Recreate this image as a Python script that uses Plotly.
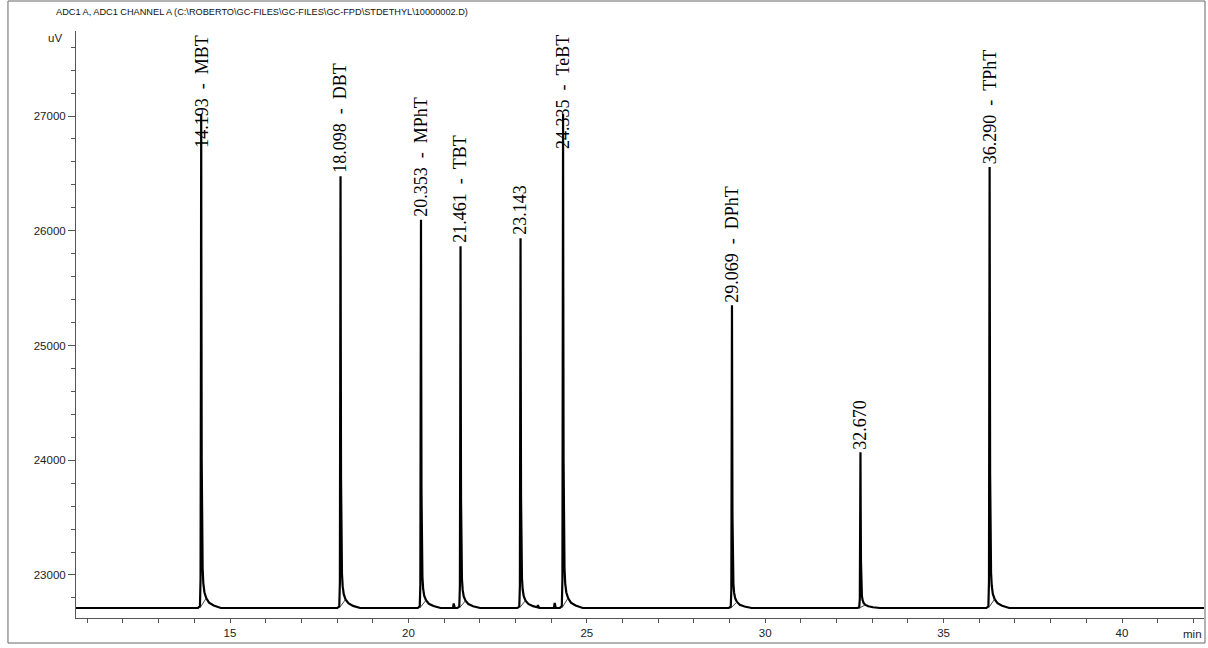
import numpy as np
import plotly.graph_objects as go

# Peak table (retention time in min, compound, apex signal in uV)
retention_times = [14.193, 18.098, 20.353, 21.461, 23.143, 24.335, 29.069, 32.670, 36.290]
compound_names = ["MBT", "DBT", "MPhT", "TBT", "", "TeBT", "DPhT", "", "TPhT"]
apex_uv = [27010, 26475, 26095, 25865, 25935, 27020, 25350, 24070, 26555]

baseline_uv = 22712
run_start, run_end = 10.6, 42.4

# Peak profile: offsets from apex (min) and fraction of apex height above baseline
profile_dt = [-0.09, -0.035, -0.018, -0.008, 0.0, 0.006, 0.014, 0.025, 0.04, 0.06, 0.09, 0.14, 0.22, 0.35, 0.55]
profile_frac = [0.0, 0.004, 0.06, 0.5, 1.0, 0.65, 0.3, 0.14, 0.08, 0.05, 0.032, 0.02, 0.011, 0.005, 0.0]

# Small baseline disturbances (min, uV above baseline)
blip_times = [21.27, 23.63, 24.10]
blip_uv = [40, 20, 45]
blip_dt = [-0.02, 0.0, 0.03]
blip_frac = [0.0, 1.0, 0.0]

# Integration marker span relative to apex (min)
integ_start_dt = -0.035
integ_end_dt = 0.14

# ---- build the trace ----
t = [run_start, run_end]
for rt in retention_times:
    t += [rt + d for d in profile_dt]
for bt in blip_times:
    t += [bt + d for d in blip_dt]
t = np.unique(np.array(t))

signal = np.full(t.shape, float(baseline_uv))
for rt, h in zip(retention_times, apex_uv):
    signal += np.interp(t, [rt + d for d in profile_dt], profile_frac, left=0, right=0) * (h - baseline_uv)
for bt, b in zip(blip_times, blip_uv):
    signal += np.interp(t, [bt + d for d in blip_dt], blip_frac, left=0, right=0) * b

fig = go.Figure()
fig.add_trace(go.Scatter(x=t, y=signal, mode="lines",
                         line=dict(color="black", width=2.2), hoverinfo="skip"))

# integration baselines under each peak
for rt in retention_times:
    xs = [rt + integ_start_dt, rt + integ_end_dt]
    ys = [baseline_uv, float(np.interp(xs[1], t, signal))]
    fig.add_trace(go.Scatter(x=xs, y=ys, mode="lines",
                             line=dict(color="#333333", width=0.9), hoverinfo="skip"))

y_range = [22625, 27741]
x_range = [10.684, 42.298]

label_font = dict(family="Liberation Serif, Times New Roman, serif", size=18, color="black")
for rt, name, h in zip(retention_times, compound_names, apex_uv):
    label = f"{rt:.3f}" + (f"\u00a0\u00a0-\u00a0\u00a0{name}" if name else "")
    if h > 26900:
        fig.add_annotation(x=rt, y=y_range[1], text=label, textangle=-90, showarrow=False,
                           xanchor="center", yanchor="top", yshift=-2, font=label_font)
    else:
        fig.add_annotation(x=rt, y=h, text=label, textangle=-90, showarrow=False,
                           xanchor="center", yanchor="bottom", yshift=1, font=label_font)

axis_font = dict(family="Liberation Sans, Arial, sans-serif", size=11.5, color="#222222")
title_font = dict(family="Liberation Sans, Arial, sans-serif", size=9.2, color="#111111")

fig.add_annotation(xref="paper", yref="paper", x=0.1645, y=1.0324,
                   text="ADC1 A, ADC1 CHANNEL A (C:\\ROBERTO\\GC-FILES\\GC-FILES\\GC-FPD\\STDETHYL\\10000002.D)",
                   showarrow=False, xanchor="center", yanchor="middle", font=title_font)
fig.add_annotation(xref="paper", yref="paper", x=0, y=1, xshift=-12, yshift=-7,
                   text="uV", showarrow=False, xanchor="right", yanchor="middle", font=axis_font)
fig.add_annotation(xref="paper", yref="paper", x=1, y=0, yshift=-8,
                   text="min", showarrow=False, xanchor="right", yanchor="top", font=axis_font)

# outer frame
fig.add_shape(type="rect", xref="paper", yref="paper",
              x0=-0.0603, x1=1.0009, y0=-0.0426, y1=1.0511,
              line=dict(color="#666666", width=1))

fig.update_xaxes(range=x_range, showgrid=False, zeroline=False, showline=True,
                 linecolor="#555555", linewidth=1, ticks="outside", ticklen=4,
                 tickcolor="#555555", tick0=0, dtick=5, tickfont=axis_font,
                 minor=dict(ticks="outside", ticklen=4, tickcolor="#555555", dtick=1, tick0=0,
                            showgrid=False))
fig.update_yaxes(range=y_range, showgrid=False, zeroline=False, showline=True,
                 linecolor="#555555", linewidth=1, ticks="outside", ticklen=7,
                 tickcolor="#555555", tick0=0, dtick=1000, tickformat="d", tickfont=axis_font,
                 minor=dict(ticks="outside", ticklen=4, tickcolor="#555555", dtick=200, tick0=0,
                            showgrid=False))

fig.update_layout(width=1208, height=648, showlegend=False,
                  margin=dict(l=76, r=4, t=31, b=30),
                  plot_bgcolor="white", paper_bgcolor="white")

fig.write_html("out.html", config={"displayModeBar": False})
